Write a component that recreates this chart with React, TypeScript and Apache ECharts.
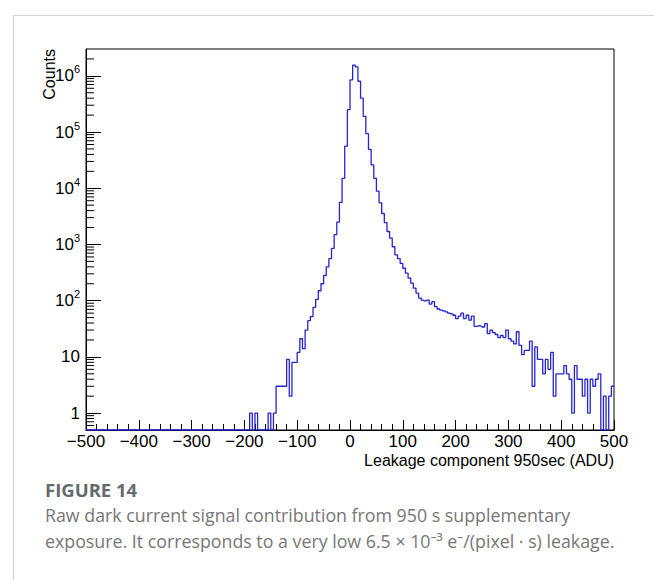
import React, { useEffect, useRef } from "react";
import * as echarts from "echarts";

// ---- axis ranges ----
const xMin = -500;
const xMax = 500;
const binWidth = 5;
const yMin = 0.5;
const yMax = 3e6;
const xTickStep = 100;

// ---- histogram counts, one per 5-ADU bin from -500 to 500 ----
const countsNeg: number[] = [
  // -500 .. -195 (62 bins)
  0, 0, 0, 0, 0, 0, 0, 0, 0, 0,
  0, 0, 0, 0, 0, 0, 0, 0, 0, 0,
  0, 0, 0, 0, 0, 0, 0, 0, 0, 0,
  0, 0, 0, 0, 0, 0, 0, 0, 0, 0,
  0, 0, 0, 0, 0, 0, 0, 0, 0, 0,
  0, 0, 0, 0, 0, 0, 0, 0, 0, 0,
  0, 0,
  // -190 .. -5
  1, 0, 1, 0, 0, 0, 0, 1, 0, 1,
  3, 3, 3, 3, 9, 2, 8, 8, 12, 21,
  14, 30, 44, 52, 76, 105, 150, 200, 280, 400,
  560, 850, 1500, 2500, 5600, 15000, 56000, 250000,
];
const countsPeak: number[] = [
  // 0 .. 90
  850000, 1550000, 1440000, 800000, 400000, 190000, 94000, 49000, 26000, 15000,
  8900, 5500, 3550, 2450, 1700, 1300, 910, 650, 560,
];
const countsTail: number[] = [
  // 95 .. 495
  460, 377, 310, 252, 205, 167, 136, 111, 102, 99,
  102, 87, 96, 78, 71, 68, 66, 63, 60, 58,
  55, 48, 53, 60, 48, 55, 45, 53, 35, 36,
  35, 34, 39, 26, 30, 27, 25, 22, 24, 22,
  30, 21, 19, 17, 28, 16, 11, 13, 13, 19,
  3, 15, 9, 9, 5, 9, 6, 12, 2, 5,
  5, 5, 7, 5, 4, 1, 7, 4, 4, 2,
  4, 1, 4, 3, 4, 5, 0, 2, 0, 2,
  3,
];
const counts: number[] = [...countsNeg, ...countsPeak, ...countsTail];

// ---- log-axis minor tick multipliers and decades ----
const minorMultipliers = [2, 3, 4, 5, 6, 7, 8, 9];
const decades = [0.1, 1, 10, 100, 1e3, 1e4, 1e5, 1e6];

// ---- texts ----
const yTitle = "Counts";
const xTitle = "Leakage component 950sec (ADU)";
const figLabel = "FIGURE 14";
const captionLine1 = "Raw dark current signal contribution from 950 s supplementary";
const captionLine2 =
  "exposure. It corresponds to a very low 6.5 \u00d7 10\u207b\u00b3 e\u207b/(pixel \u00b7 s) leakage.";

const AXIS_FONT = "'Liberation Sans', Arial, Helvetica, sans-serif";
const CAPTION_FONT = "'Open Sans', 'Noto Sans', sans-serif";

export default function App() {
  const ref = useRef<HTMLDivElement>(null);

  useEffect(() => {
    if (!ref.current) return;
    const chart = echarts.init(ref.current, null, { renderer: "svg" });

    const stepData: number[][] = counts.map((c, i) => [
      xMin + i * binWidth,
      c > 0 ? c : yMin,
    ]);
    const last = counts[counts.length - 1];
    stepData.push([xMax, last > 0 ? last : yMin]);

    const minorTicks: number[][] = [];
    decades.forEach((d) =>
      minorMultipliers.forEach((m) => {
        const v = d * m;
        if (v > yMin && v < yMax) minorTicks.push([xMin, v]);
      })
    );

    const option: any = {
      animation: false,
      backgroundColor: "#ffffff",
      grid: {
        left: 86,
        top: 49,
        width: 528,
        height: 381,
        show: true,
        borderColor: "#000",
        borderWidth: 1,
        outerBoundsMode: "none",
        containLabel: false,
      },
      xAxis: {
        type: "value",
        min: xMin,
        max: xMax,
        interval: xTickStep,
        axisLine: { show: true, onZero: false, lineStyle: { color: "#000", width: 1 } },
        axisTick: { show: true, inside: true, length: 10, lineStyle: { color: "#000" } },
        minorTick: { show: true, splitNumber: 5, length: 6, lineStyle: { color: "#000" } },
        splitLine: { show: false },
        axisLabel: {
          margin: 3,
          color: "#000",
          fontSize: 17,
          fontFamily: AXIS_FONT,
          formatter: (v: number) => (v < 0 ? "\u2212" + Math.abs(v) : String(v)),
        },
      },
      yAxis: {
        type: "log",
        logBase: 10,
        min: yMin,
        max: yMax,
        axisLine: { show: true, onZero: false, lineStyle: { color: "#000", width: 1 } },
        axisTick: { show: true, inside: true, length: 15, lineStyle: { color: "#000" } },
        splitLine: { show: false },
        minorTick: { show: false },
        axisLabel: {
          margin: 6,
          showMinLabel: false,
          showMaxLabel: false,
          color: "#000",
          fontFamily: AXIS_FONT,
          formatter: (v: number) => {
            const e = Math.round(Math.log10(v));
            if (e === 0) return "{b|1}";
            if (e === 1) return "{b|10}";
            return "{b|10}{sup|" + e + "}";
          },
          rich: {
            b: { fontSize: 17, lineHeight: 24, fontFamily: AXIS_FONT, color: "#000" },
            sup: {
              fontSize: 11,
              lineHeight: 12,
              verticalAlign: "top",
              fontFamily: AXIS_FONT,
              color: "#000",
            },
          },
        },
      },
      series: [
        {
          type: "line",
          data: stepData,
          step: "end",
          symbol: "none",
          showSymbol: false,
          clip: true,
          lineStyle: { color: "#2424d4", width: 1.3 },
          silent: true,
          z: 3,
        },
        {
          type: "custom",
          data: minorTicks,
          silent: true,
          clip: false,
          z: 4,
          renderItem: (params: any, api: any) => {
            const p = api.coord([api.value(0), api.value(1)]);
            return {
              type: "line",
              shape: { x1: p[0], y1: p[1], x2: p[0] + 8, y2: p[1] },
              style: { stroke: "#000", lineWidth: 1 },
            };
          },
        },
      ],
      graphic: [
        {
          type: "line",
          silent: true,
          shape: { x1: 13, y1: 15.5, x2: 654, y2: 15.5 },
          style: { stroke: "#d4d4d4", lineWidth: 1.2 },
        },
        {
          type: "line",
          silent: true,
          shape: { x1: 13.5, y1: 15, x2: 13.5, y2: 580 },
          style: { stroke: "#d4d4d4", lineWidth: 1.2 },
        },
        {
          type: "text",
          silent: true,
          x: 49,
          y: 49,
          rotation: Math.PI / 2,
          style: {
            text: yTitle,
            fill: "#000",
            fontSize: 16,
            fontFamily: AXIS_FONT,
            align: "right",
            verticalAlign: "middle",
          },
        },
        {
          type: "text",
          silent: true,
          x: 614,
          y: 460,
          style: {
            text: xTitle,
            fill: "#000",
            fontSize: 16,
            fontFamily: AXIS_FONT,
            align: "right",
            verticalAlign: "middle",
          },
        },
        {
          type: "text",
          silent: true,
          x: 45,
          y: 489,
          style: {
            text: figLabel,
            fill: "#636b6e",
            fontSize: 18.5,
            fontWeight: "bold",
            fontFamily: CAPTION_FONT,
            verticalAlign: "middle",
          },
        },
        {
          type: "text",
          silent: true,
          x: 45,
          y: 515,
          style: {
            text: captionLine1,
            fill: "#777777",
            fontSize: 17.8,
            fontFamily: CAPTION_FONT,
            verticalAlign: "middle",
          },
        },
        {
          type: "text",
          silent: true,
          x: 45,
          y: 541,
          style: {
            text: captionLine2,
            fill: "#777777",
            fontSize: 17.8,
            fontFamily: CAPTION_FONT,
            verticalAlign: "middle",
          },
        },
      ],
    };

    chart.setOption(option);
    return () => chart.dispose();
  }, []);

  return (
    <div
      ref={ref}
      style={{ position: "absolute", left: 0, top: 0, width: 654, height: 580 }}
    />
  );
}
